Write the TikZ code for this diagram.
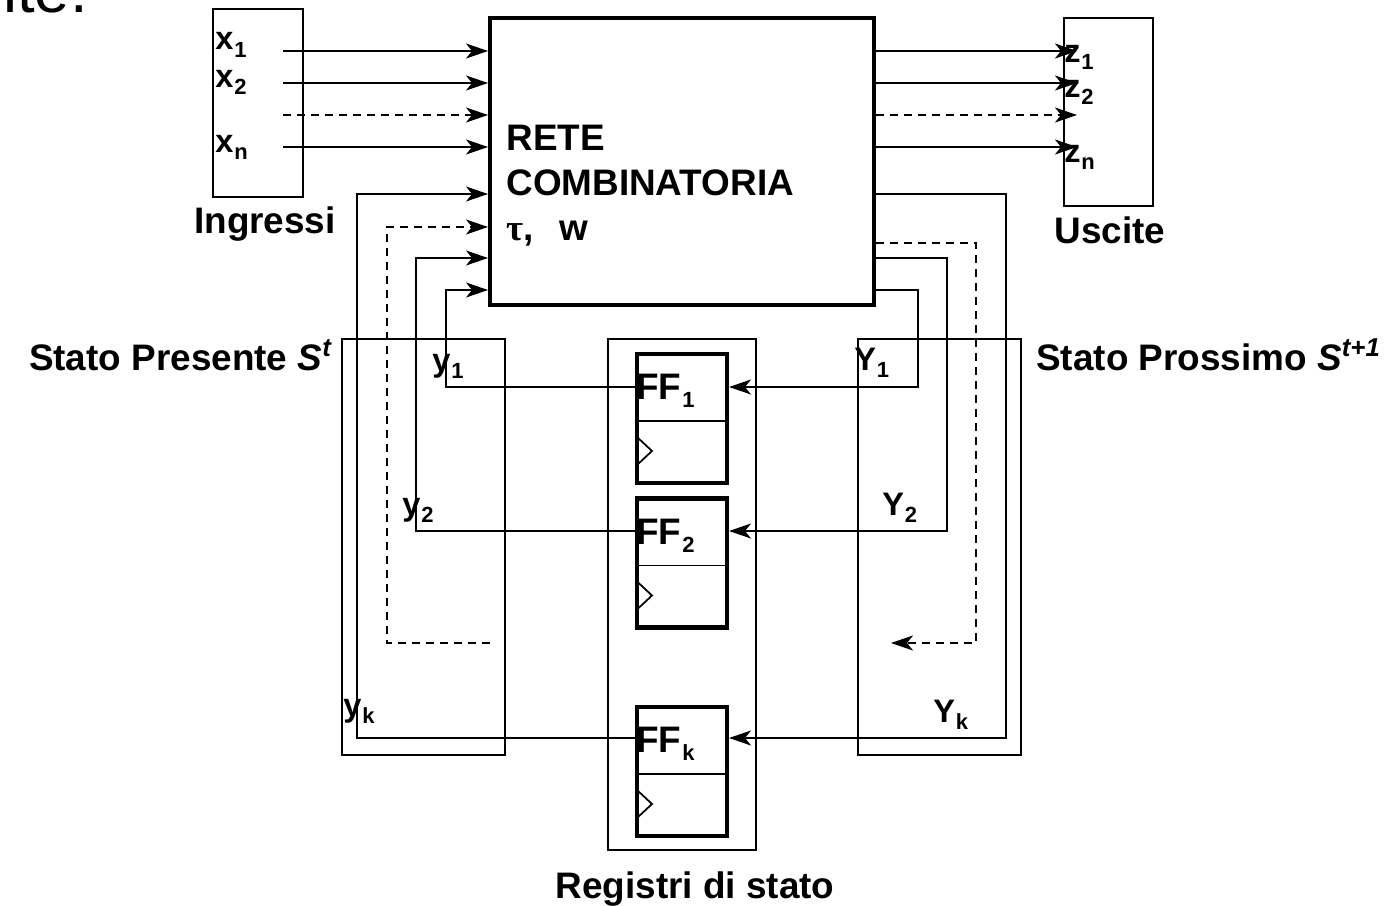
\documentclass[tikz,border=0pt]{standalone}
\usepackage{fontspec}
\setmainfont{Liberation Sans}
\newfontfamily\grfont{Liberation Serif}
\usetikzlibrary{arrows.meta,calc,positioning}
\newcommand{\lo}[1]{\kern0.5pt\raisebox{-4.5pt}{\fontsize{12.5}{12.5}\selectfont #1}}

\begin{document}
\begin{tikzpicture}[
x=0.02cm, y=-0.02cm,
every node/.style={
inner sep=0pt,
font=\bfseries\fontsize{21}{25.5}\selectfont
},
wire/.style={line width=1.1pt},
arrow/.style={wire, -{Stealth[length=0.44cm, width=0.3cm, inset=0.12cm]}},
dashwire/.style={dash pattern=on 0.16cm off 0.12cm}
]

\useasboundingbox (0,0) rectangle (1387,906);

% =====================================================
% Styles
% =====================================================

\tikzstyle{frame} =
[rectangle,
draw,
line width=1.1pt]

\tikzstyle{block} =
[rectangle,
draw,
line width=2.3pt]

\tikzstyle{ffbox} =
[block,
minimum width=1.8cm,
minimum height=2.58cm,
path picture={
\draw [line width=1.1pt]
([yshift=-1.34cm]path picture bounding box.north west) --
([yshift=-1.34cm]path picture bounding box.north east);
\draw [line width=1pt]
([yshift=-1.66cm]path picture bounding box.north west) --
([xshift=0.3cm, yshift=-1.94cm]path picture bounding box.north west) --
([yshift=-2.22cm]path picture bounding box.north west);
}]

\tikzstyle{sig} =
[anchor=base west,
font=\bfseries\fontsize{18.5}{18.5}\selectfont]

% =====================================================
% Nodes
% =====================================================

\node (ingr) [frame, minimum width=1.8cm, minimum height=3.76cm] at (258,103) {};

\node (rete) [block, minimum width=7.68cm, minimum height=5.74cm] at (682,161.5) {};

\node (usc) [frame, minimum width=1.78cm, minimum height=3.76cm] at (1108.5,112) {};

\node (pres) [frame, minimum width=3.26cm, minimum height=8.32cm] at (423.5,547) {};

\node (reg) [frame, minimum width=2.96cm, minimum height=10.22cm] at (682,594.5) {};

\node (pross) [frame, minimum width=3.26cm, minimum height=8.32cm] at (939.5,547) {};

\node (ff1) [ffbox] at (682,418.5) {};

\node (ff2) [ffbox] at (682,563) {};

\node (ffk) [ffbox] at (682,771.5) {};

% =====================================================
% Texts
% =====================================================

\node (ite) [anchor=base west, font=\fontsize{36}{36}\selectfont] at (3,12) {ite.};

\node (retetxt) [anchor=north west, align=left] at ($(rete.north west)+(18,109)$)
{RETE\\COMBINATORIA\\{\grfont τ},\hspace{0.7em}w};

\node (ingrtxt) [anchor=base] at (265,233) {Ingressi};

\node (usctxt) [anchor=base] at (1110,243) {Uscite};

\node (regtxt) [anchor=base] at (695,898) {Registri di stato};

\node (prestxt) [anchor=base east] at (333,370)
{Stato Presente \textit{S}\textsuperscript{\textit{t}}};

\node (prosstxt) [anchor=base west] at (1036,370)
{Stato Prossimo \textit{S}\textsuperscript{\textit{t+1}}};

\node (lff1) [anchor=base west] at ($(ff1.north west)+(1,48)$) {FF\lo{1}};

\node (lff2) [anchor=base west] at ($(ff2.north west)+(1,48)$) {FF\lo{2}};

\node (lffk) [anchor=base west] at ($(ffk.north west)+(1,48)$) {FF\lo{k}};

\node (lx1) [sig] at (215,50) {x\lo{1}};
\node (lx2) [sig] at (215,87) {x\lo{2}};
\node (lxn) [sig] at (215,152) {x\lo{n}};

\node (lz1) [sig] at (1064,62) {z\lo{1}};
\node (lz2) [sig] at (1064,97) {z\lo{2}};
\node (lzn) [sig] at (1064,162) {z\lo{n}};

\node (ly1) [sig] at (432,371) {y\lo{1}};
\node (ly2) [sig] at (402,515) {y\lo{2}};
\node (lyk) [sig] at (343,716) {y\lo{k}};

\node (lY1) [sig] at (854,370) {Y\lo{1}};
\node (lY2) [sig] at (882,515) {Y\lo{2}};
\node (lYk) [sig] at (933,722) {Y\lo{k}};

% =====================================================
% Coordinates
% =====================================================

\coordinate (x1) at (283,51);
\coordinate (x2) at (283,83);
\coordinate (xd) at (283,115);
\coordinate (xn) at (283,147);

\coordinate (z1) at (1077,51);
\coordinate (z2) at (1077,83);
\coordinate (zd) at (1077,115);
\coordinate (zn) at (1077,147);

\coordinate (w1) at (0,387);
\coordinate (w2) at (0,531);
\coordinate (wk) at (0,738);

\coordinate (p1) at (446,290);
\coordinate (p2) at (416,258);
\coordinate (pd) at (387,227);
\coordinate (pk) at (357,194);
\coordinate (pe) at (490,643);

\coordinate (n1) at (918,290);
\coordinate (n2) at (947,258);
\coordinate (nd) at (976,243);
\coordinate (nk) at (1006,194);
\coordinate (ne) at (891,643);

% =====================================================
% Arrows
% =====================================================

\draw [arrow] (x1) -- (x1 -| rete.west);

\draw [arrow] (x2) -- (x2 -| rete.west);

\draw [arrow, dashwire] (xd) -- (xd -| rete.west);

\draw [arrow] (xn) -- (xn -| rete.west);

\draw [arrow] (z1 -| rete.east) -- (z1);

\draw [arrow] (z2 -| rete.east) -- (z2);

\draw [arrow, dashwire] (zd -| rete.east) -- (zd);

\draw [arrow] (zn -| rete.east) -- (zn);

\draw [arrow] (ff1.west |- w1) -| (p1) -- (p1 -| rete.west);

\draw [arrow] (ff2.west |- w2) -| (p2) -- (p2 -| rete.west);

\draw [arrow, dashwire] (pe) -| (pd) -- (pd -| rete.west);

\draw [arrow] (ffk.west |- wk) -| (pk) -- (pk -| rete.west);

\draw [arrow] (n1 -| rete.east) -- (n1) |- (ff1.east |- w1);

\draw [arrow] (n2 -| rete.east) -- (n2) |- (ff2.east |- w2);

\draw [arrow, dashwire] (nd -| rete.east) -- (nd) |- (ne);

\draw [arrow] (nk -| rete.east) -- (nk) |- (ffk.east |- wk);

\end{tikzpicture}
\end{document}
